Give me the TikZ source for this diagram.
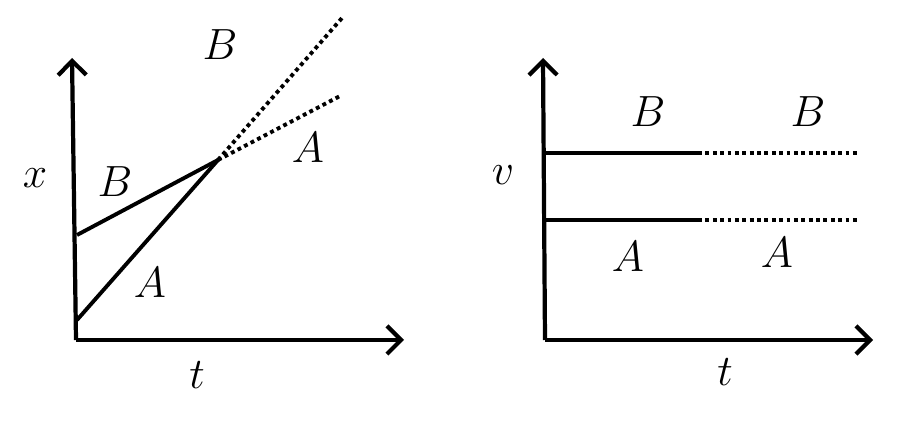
\documentclass[tikz,border=0pt]{standalone}
\usetikzlibrary{arrows.meta}
\begin{document}
\begin{tikzpicture}[x=0.02cm,y=-0.02cm,
  ax/.style={line width=2.4pt,-{Straight Barb[length=8pt,width=16pt,line width=2.4pt]}},
  ln/.style={line width=2.2pt},
  dt/.style={line width=2.2pt,dotted},
  lb/.style={font=\fontsize{26}{28}\selectfont}]
\useasboundingbox (0,0) rectangle (900,428);
% left
\coordinate (o1) at (76,340);
\coordinate (y1) at (72,58);
\coordinate (x1) at (404,340);
\draw[ax] (o1) -- (y1);
\draw[ax] (o1) -- (x1);
\coordinate (b0) at (77,235);
\coordinate (a0) at (77,320);
\coordinate (m) at (218,160);
\coordinate (bd) at (342,18);
\coordinate (ad) at (342,95);
\draw[ln] (b0) -- (m);
\draw[ln] (a0) -- (m);
\draw[dt] (m) -- (bd);
\draw[dt] (m) -- (ad);
\node[lb] (lB1) at (220,45) {$B$};
\node[lb] (lA1) at (308,148) {$A$};
\node[lb] (lB2) at (115,182) {$B$};
\node[lb] (lA2) at (150,283) {$A$};
\node[lb] (lx) at (35,178) {$x$};
\node[lb] (lt1) at (197,375) {$t$};
% right
\coordinate (o2) at (545,340);
\coordinate (y2) at (543,58);
\coordinate (x2) at (873,340);
\draw[ax] (o2) -- (y2);
\draw[ax] (o2) -- (x2);
\coordinate (rb0) at (545,153);
\coordinate (rb1) at (698,153);
\coordinate (rb2) at (858,153);
\coordinate (ra0) at (545,220);
\coordinate (ra1) at (698,220);
\coordinate (ra2) at (858,220);
\draw[ln] (rb0) -- (rb1);
\draw[dt] (rb1) -- (rb2);
\draw[ln] (ra0) -- (ra1);
\draw[dt] (ra1) -- (ra2);
\node[lb] (rB1) at (648,112) {$B$};
\node[lb] (rB2) at (808,112) {$B$};
\node[lb] (rA1) at (628,257) {$A$};
\node[lb] (rA2) at (777,253) {$A$};
\node[lb] (lv) at (503,175) {$v$};
\node[lb] (lt2) at (725,372) {$t$};
\end{tikzpicture}
\end{document}
